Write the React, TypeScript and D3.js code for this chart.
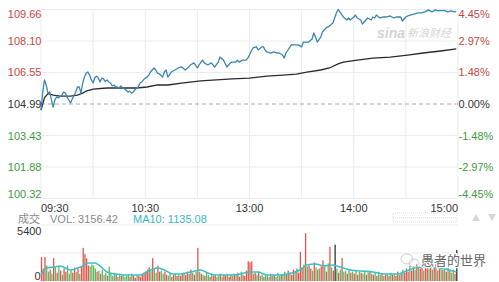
import React from "react";
import * as d3 from "d3";

// ---- data ----
const PREV_CLOSE = 104.99;
const priceTicks = ["109.66", "108.10", "106.55", "104.99", "103.43", "101.88", "100.32"];
const pctTicks = ["4.45%", "2.97%", "1.48%", "0.00%", "-1.48%", "-2.97%", "-4.45%"];
const timeLabels = ["09:30", "10:30", "13:00", "14:00", "15:00"];
const timeLabelMinutes = [0, 60, 120, 180, 240];

// minute offsets (0 = 09:30, 120 = 11:30/13:00, 240 = 15:00) and prices
const priceMinutes = [0, 1, 2, 3, 4, 5, 6, 7, 8, 9, 10, 12, 13, 14, 15, 16, 17, 18, 20, 21, 22, 23, 24, 25, 26, 27, 28, 29, 30, 31, 32, 33, 34, 35, 36, 37, 38, 39, 40, 41, 42, 43, 44, 45, 46, 47, 48, 49, 50, 51, 52, 53, 54, 55, 56, 57, 58, 59, 60, 61, 62, 63, 64, 65, 66, 67, 68, 70, 71, 72, 73, 75, 77, 79, 81, 83, 85, 86, 88, 90, 91, 93, 94, 96, 98, 100, 102, 103, 105, 107, 109, 110, 112, 113, 114, 116, 118, 119, 120, 121, 122, 124, 125, 127, 128, 129, 130, 132, 134, 136, 137, 139, 140, 141, 143, 144, 146, 148, 150, 151, 153, 154, 156, 157, 158, 159, 161, 162, 164, 166, 168, 169, 170, 171, 172, 174, 176, 177, 178, 180, 181, 182, 184, 185, 187, 188, 190, 191, 192, 193, 195, 197, 199, 201, 203, 205, 207, 208, 210, 211, 213, 215, 217, 219, 221, 223, 225, 227, 228, 231, 232, 234, 236, 238, 239];
const prices = [104.69, 105.58, 106.18, 105.93, 105.53, 105.58, 105.19, 104.84, 105.19, 105.34, 105.29, 105.43, 105.58, 105.53, 105.34, 105.19, 105.04, 105.24, 105.58, 105.83, 105.83, 105.53, 106.03, 106.32, 106.52, 106.57, 106.42, 106.18, 106.03, 106.30, 106.37, 106.27, 106.08, 106.27, 106.23, 106.10, 106.18, 106.08, 106.03, 105.88, 105.93, 105.83, 105.83, 105.78, 105.88, 105.78, 105.73, 105.68, 105.58, 105.63, 105.53, 105.58, 105.68, 105.78, 105.83, 106.03, 106.08, 106.18, 106.27, 106.32, 106.42, 106.57, 106.67, 106.77, 106.67, 106.52, 106.48, 106.32, 106.57, 106.67, 106.32, 106.57, 106.67, 106.77, 106.82, 106.67, 106.82, 106.92, 107.02, 106.77, 106.92, 107.16, 107.02, 106.92, 107.02, 106.82, 107.06, 107.31, 107.16, 106.82, 107.02, 107.06, 107.06, 107.16, 107.06, 107.16, 107.16, 107.26, 107.41, 107.60, 107.76, 107.81, 107.66, 107.81, 107.81, 107.66, 107.56, 107.51, 107.56, 107.51, 107.51, 107.41, 107.26, 107.51, 107.76, 107.91, 107.91, 107.91, 107.81, 108.05, 108.05, 108.05, 108.20, 108.50, 108.30, 108.05, 108.30, 108.55, 108.75, 108.84, 108.99, 109.24, 109.49, 109.66, 109.54, 109.29, 109.14, 109.24, 109.14, 109.29, 109.39, 109.24, 109.14, 108.94, 109.14, 109.24, 109.14, 109.29, 109.24, 109.39, 109.24, 109.29, 109.29, 109.34, 109.24, 109.29, 109.29, 109.09, 109.29, 109.34, 109.39, 109.44, 109.49, 109.49, 109.54, 109.64, 109.54, 109.64, 109.60, 109.60, 109.62, 109.54, 109.59, 109.54, 109.57, 109.54];

const avgMinutes = [0, 2, 4, 7, 11, 17, 21, 24, 26, 30, 38, 47, 55, 61, 67, 73, 82, 92, 101, 110, 120, 130, 139, 147, 153, 161, 166, 171, 174, 182, 191, 201, 211, 220, 230, 239];
const avgPrices = [104.69, 105.30, 105.50, 105.43, 105.38, 105.38, 105.43, 105.53, 105.63, 105.73, 105.78, 105.78, 105.78, 105.83, 105.93, 105.93, 106.03, 106.13, 106.18, 106.23, 106.27, 106.37, 106.42, 106.47, 106.57, 106.67, 106.77, 106.97, 107.06, 107.16, 107.26, 107.31, 107.41, 107.51, 107.61, 107.71];

const volumes = [
  2300, 1200, 2300, 1500, 900, 1100, 700, 2200, 1300, 800,
  1400, 1000, 600, 1200, 900, 1500, 700, 1100, 800, 1300,
  900, 1200, 700, 1400, 3200, 2600, 2200, 1500, 1400, 1600,
  1500, 1200, 900, 1000, 700, 1100, 600, 800, 500, 1400,
  700, 500, 800, 600, 400, 700, 500, 600, 400, 500,
  600, 400, 700, 500, 300, 600, 500, 400, 700, 800,
  900, 1100, 1300, 1000, 2200, 1200, 800, 1500, 900, 1000,
  700, 900, 600, 500, 800, 400, 600, 700, 500, 600,
  500, 700, 800, 600, 900, 700, 1100, 800, 600, 900,
  3200, 900, 700, 600, 500, 800, 600, 400, 700, 500,
  600, 400, 500, 700, 400, 600, 500, 700, 400, 600,
  500, 700, 600, 800, 400, 900, 600, 500, 1000, 1900,
  1800, 1900, 700, 800, 600, 900, 500, 600, 400, 500,
  600, 400, 700, 500, 600, 400, 800, 500, 600, 700,
  900, 700, 1000, 800, 600, 1100, 900, 1200, 800, 2800,
  1300, 1600, 4600, 1400, 1500, 1200, 1000, 1800, 1300, 1100,
  1200, 1400, 2000, 1500, 900, 1700, 3300, 1300, 1000, 3500,
  1200, 800, 1100, 2200, 900, 1000, 700, 1100, 800, 900,
  700, 1000, 600, 900, 800, 700, 1000, 600, 800, 900,
  700, 600, 800, 500, 900, 600, 700, 500, 600, 700,
  500, 800, 600, 700, 500, 900, 600, 700, 1100, 800,
  1200, 900, 1500, 1000, 1400, 1100, 1600, 1300, 1200, 1500,
  1000, 1600, 1300, 1200, 1400, 1100, 1300, 1700, 1000, 1200,
  1400, 1100, 1200, 900, 1300, 1000, 800, 1100, 700, 3000,
];
const volumeDirections =
  "rrrggrgrgr" + "grgrrgggrr" + "grgrrrrrgg" + "ggrgrgggrg" + "gggrggrggg" + "grgrrgrrrr" +
  "rrrgrggrrg" + "grrggrrgrg" + "rrgrrgrgrg" + "rgrgrggrgr" + "rggrgrrgrr" + "grgrrgrrrr" +
  "rrgrgrggrg" + "ggrgrgggrg" + "grrgrrgrrr" + "rgrgrrgrgr" + "grrgrgrgrk" + "grgrggrgrg" +
  "rgrgrggrgr" + "grgrggrgrg" + "rgrgrrgrgr" + "rrgrrgrgrr" + "grrgrgrrgr" + "grgrgrggrk";

const maMinutes = [0, 3, 8, 11, 17, 21, 24, 27, 31, 34, 38, 43, 48, 57, 63, 67, 71, 76, 80, 86, 92, 96, 100, 109, 115, 120, 125, 130, 138, 144, 149, 153, 158, 163, 168, 172, 178, 184, 191, 198, 205, 209, 215, 221, 230, 235, 239];
const ma10 = [580, 1250, 1350, 1450, 1060, 1250, 1450, 1735, 1735, 1450, 870, 675, 580, 580, 1060, 1250, 1060, 675, 675, 870, 1060, 770, 580, 580, 675, 870, 870, 580, 580, 770, 1060, 1540, 1640, 1450, 1540, 1350, 1060, 960, 870, 675, 675, 870, 1250, 1350, 1250, 1060, 870];

const volText = "VOL: 3156.42";
const maText = "MA10: 1135.08";

// ---- layout ----
const W = 499, H = 282;
const L = 41, R = 458;
const TOP = 9.5, BOT = 198.5;
const VTOP = 225, VBOT = 281;
const FONT = "'Liberation Sans', Arial, 'Noto Sans CJK SC', sans-serif";

const colorFor = (c: string) => (c === "r" ? "#e0574f" : c === "g" ? "#62b862" : "#333333");
const priceColor = (i: number) => (i < 3 ? "#c9463d" : i === 3 ? "#333" : "#3c9a3c");

export default function App() {
  const x = d3.scaleLinear().domain([0, 240]).range([L, R]);
  const y = d3.scaleLinear().domain([100.32, 109.66]).range([BOT, TOP]);
  const yv = d3.scaleLinear().domain([0, 5400]).range([VBOT, VTOP]);

  const priceLine = d3.line<number>().x((_, i) => x(priceMinutes[i])).y((d) => y(d));
  const avgLine = d3.line<number>().x((_, i) => x(avgMinutes[i])).y((d) => y(d));
  const maLine = d3.line<number>().x((_, i) => x(maMinutes[i])).y((d) => yv(d)).curve(d3.curveMonotoneX);

  const hGrid = priceTicks.map((t) => y(parseFloat(t)));
  const vGrid = d3.range(0, 241, 30);

  const labelBaseline = (i: number, gy: number) => (i === 0 ? gy + 8.5 : i === priceTicks.length - 1 ? gy - 0.5 : gy + 4);

  return (
    <svg width={W} height={H} style={{ position: "absolute", left: 0, top: 0, background: "#fff" }} fontFamily={FONT}>
      <rect width={W} height={H} fill="#fff" />
      {/* grid */}
      {hGrid.map((gy, i) =>
        i === 3 ? null : <line key={"h" + i} x1={L} x2={R} y1={gy} y2={gy} stroke="#ebebeb" strokeWidth={1} />
      )}
      {vGrid.map((m, i) => (
        <line key={"v" + i} x1={x(m)} x2={x(m)} y1={TOP} y2={BOT} stroke="#ebebeb" strokeWidth={1} />
      ))}
      <line x1={L} x2={R} y1={y(PREV_CLOSE)} y2={y(PREV_CLOSE)} stroke="#aaa" strokeWidth={1} strokeDasharray="4,3" />

      {/* watermark sina */}
      <g opacity={0.5}>
        <text x={377} y={38} fontSize={14} fontStyle="italic" fontWeight="bold" fill="#aaa">sina</text>
        <text x={407} y={37} fontSize={11} fill="#aaa" fontStyle="italic">新浪财经</text>
      </g>

      {/* lines */}
      <path d={avgLine(avgPrices) || ""} fill="none" stroke="#2b2b2b" strokeWidth={1.3} />
      <path d={priceLine(prices) || ""} fill="none" stroke="#3a86b4" strokeWidth={1.3} strokeLinejoin="round" />

      {/* price labels */}
      {priceTicks.map((t, i) => (
        <text key={"p" + i} x={41.5} y={labelBaseline(i, hGrid[i])} fontSize={11} textAnchor="end" fill={priceColor(i)}>{t}</text>
      ))}
      {pctTicks.map((t, i) => (
        <text key={"c" + i} x={458.5} y={labelBaseline(i, hGrid[i])} fontSize={11} textAnchor="start" fill={priceColor(i)}>{t}</text>
      ))}

      {/* time labels */}
      {timeLabels.map((t, i) => (
        <text key={"t" + i} x={x(timeLabelMinutes[i])} y={212} fontSize={11} fill="#333"
          textAnchor={i === 0 ? "start" : i === timeLabels.length - 1 ? "end" : "middle"}>{t}</text>
      ))}

      {/* scroll handle & arrows */}
      <rect x={393} y={213} width={64} height={9} fill="none" stroke="#ddd" strokeDasharray="1,1" strokeWidth={1} />
      <line x1={393} x2={457} y1={217.5} y2={217.5} stroke="#e6e6e6" strokeDasharray="1,1" />
      <path d="M472,221 L476,214 L480,221 Z" fill="#d6d6d6" />
      <path d="M488,214 L496,214 L492,221 Z" fill="#d6d6d6" />

      {/* volume header */}
      <text x={18} y={222.5} fontSize={11} fill="#888">成交</text>
      <text x={50} y={222.5} fontSize={11} fill="#8a8a8a">{volText}</text>
      <text x={133} y={222.5} fontSize={11} fill="#3bb6c4">{maText}</text>

      {/* volume grid */}
      <line x1={L} x2={R} y1={VTOP} y2={VTOP} stroke="#ebebeb" />
      <line x1={L} x2={R} y1={(VTOP + VBOT) / 2} y2={(VTOP + VBOT) / 2} stroke="#ebebeb" />
      <text x={41.5} y={235} fontSize={11} textAnchor="end" fill="#333">5400</text>
      <text x={40.5} y={280} fontSize={11} textAnchor="end" fill="#333">0</text>

      {/* volume bars */}
      {volumes.map((v, i) => (
        <rect key={"b" + i} x={x(i) - 0.15} width={1.3} y={yv(v)} height={VBOT - yv(v)} fill={colorFor(volumeDirections[i])} />
      ))}
      <path d={maLine(ma10) || ""} fill="none" stroke="#3cc0c8" strokeWidth={1.6} />

      {/* wechat watermark */}
      <g>
        <ellipse cx={407} cy={259} rx={6} ry={5} fill="none" stroke="#ccc" strokeWidth={1} />
        <ellipse cx={414} cy={263} rx={5} ry={4} fill="none" stroke="#ccc" strokeWidth={1} />
        <text x={421} y={265} fontSize={13} fill="#fff" stroke="#fff" strokeWidth={2.5}>愚者的世界</text>
        <text x={421} y={265} fontSize={13} fill="#666">愚者的世界</text>
      </g>
    </svg>
  );
}
